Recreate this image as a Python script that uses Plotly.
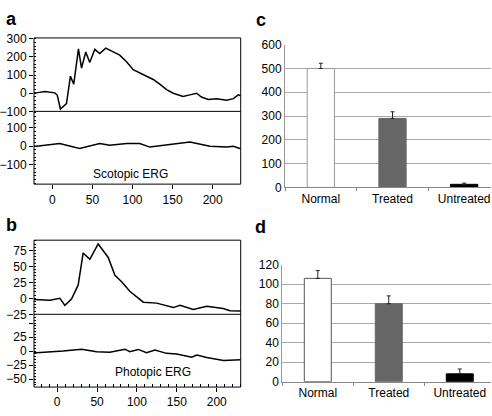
import plotly.graph_objects as go

# ---- Data ----
# Panel a: Scotopic ERG (time ms, amplitude)
a_top_t = [-23, -20, -9.6, 2.9, 6, 10, 17.5, 20, 22.5, 26.6, 32.5, 36.3, 41.6, 46.6, 52.9, 59, 66.6,
           84, 92.5, 100.8, 109, 117.5, 125.8, 134, 142.5, 150.8, 163, 171.6, 180, 186, 194.5, 205, 217.5, 225.8, 232, 235]
a_top_v = [2, 2, 9, 2, -10, -87, -57, 20, 94, 50, 245, 139, 227, 169, 242, 219, 249,
           210, 174, 130, 112, 94, 76, 50, 20, 0, -18, -9, 0, -21, -34, -30, -39, -30, -9, -14]
a_bot_t = [-23, -20, 9, 34, 59, 71.6, 92.5, 109, 121.6, 146.6, 171.6, 196.6, 217.5, 225.8, 233, 235]
a_bot_v = [0, 0, 14, -12, 14, 5, 14, 14, -5, 9, 23, 0, -4, 0, -14, -14]

# Panel b: Photopic ERG
b_top_t = [-29, -25.8, -9, 3.4, 9.7, 18, 26.4, 32.6, 41, 51.4, 64, 72.4, 80.8, 91, 108, 124.7, 145.6, 154,
           170.6, 187.4, 208, 216.7, 229, 230]
b_top_v = [-2, -2, -3, 0, -11, -1, 21, 71, 61, 85, 64, 36, 26, 11, -6, -7.5, -14.5, -11,
           -17.5, -12.6, -16, -19.5, -20, -20]
b_bot_t = [-29, -25.8, 7.5, 30.6, 49.4, 66, 85, 91, 101.6, 112, 122.6, 137, 149.8, 168.6, 175, 187.5, 208.4, 229, 230]
b_bot_v = [-3, -3, 0, 3.4, -1, -2, 3.4, -1, 3, -3, 1.7, -4, -5, -11, -7, -11.5, -16.7, -15.5, -15.5]

# Panels c, d: bar charts
groups = ["Normal", "Treated", "Untreated"]
c_vals = [500, 290, 13]
c_err = [22, 28, 5]
d_vals = [106, 80, 8]
d_err = [8, 8, 5]
bar_colors = ["#ffffff", "#666666", "#000000"]

W, H = 492, 416
def xd(a, b):
    return [a / W, b / W]
def yd(top, bot):
    return [1 - bot / H, 1 - top / H]

FONT = "Liberation Sans, Arial, Helvetica, sans-serif"
fig = go.Figure()

line = dict(color="black", width=1.5)
fig.add_trace(go.Scatter(x=a_top_t, y=a_top_v, mode="lines", line=line, xaxis="x", yaxis="y", showlegend=False))
fig.add_trace(go.Scatter(x=a_bot_t, y=a_bot_v, mode="lines", line=line, xaxis="x2", yaxis="y2", showlegend=False))
fig.add_trace(go.Scatter(x=b_top_t, y=b_top_v, mode="lines", line=line, xaxis="x3", yaxis="y3", showlegend=False))
fig.add_trace(go.Scatter(x=b_bot_t, y=b_bot_v, mode="lines", line=line, xaxis="x4", yaxis="y4", showlegend=False))

fig.add_trace(go.Bar(x=groups, y=c_vals, width=0.38, xaxis="x5", yaxis="y5", showlegend=False,
                     marker=dict(color=bar_colors, line=dict(color=["#999999", "#666666", "#000000"], width=1)),
                     error_y=dict(type="data", symmetric=False, array=c_err, arrayminus=[0, 0, 0],
                                  color="#222222", thickness=1, width=2)))
fig.add_trace(go.Bar(x=groups, y=d_vals, width=0.38, xaxis="x6", yaxis="y6", showlegend=False,
                     marker=dict(color=bar_colors, line=dict(color=["#555555", "#666666", "#000000"], width=1)),
                     error_y=dict(type="data", symmetric=False, array=d_err, arrayminus=[0, 0, 0],
                                  color="#222222", thickness=1, width=2)))

tf = dict(family=FONT, size=12, color="black")
noframe = dict(showline=False, showgrid=False, zeroline=False, tickfont=tf, tickcolor="black")
mn = lambda d, l=2: dict(dtick=d, ticks="inside", ticklen=l, tickcolor="black")

# ERG axes
a_x = [-23, 235]
b_x = [-29, 230]
L, R = 34, 240.7
fig.update_layout(
    xaxis=dict(domain=xd(L, R), range=a_x, anchor="y", showticklabels=False, ticks="", **noframe),
    yaxis=dict(domain=yd(32, 108), range=[-100, 305], anchor="x", tickvals=[-100, 0, 100, 200, 300],
               ticks="outside", ticklen=4, minor=mn(20), **noframe),
    xaxis2=dict(domain=xd(L, R), range=a_x, anchor="y2", tickvals=[0, 50, 100, 150, 200],
                ticks="outside", ticklen=4, **noframe),
    yaxis2=dict(domain=yd(108, 183.3), range=[-205, 188], anchor="x2", tickvals=[-100, 0, 100],
                ticks="outside", ticklen=4, minor=mn(20), **noframe),
    xaxis3=dict(domain=xd(L, R), range=b_x, anchor="y3", showticklabels=False, ticks="", **noframe),
    yaxis3=dict(domain=yd(241.3, 318), range=[-25, 91], anchor="x3", tickvals=[-25, 0, 25, 50, 75],
                ticks="outside", ticklen=4, minor=mn(5), **noframe),
    xaxis4=dict(domain=xd(L, R), range=b_x, anchor="y4", tickvals=[0, 50, 100, 150, 200],
                ticks="outside", ticklen=4, minor=mn(10, 3), **noframe),
    yaxis4=dict(domain=yd(318, 393.3), range=[-64, 65.5], anchor="x4", tickvals=[-50, -25, 0, 25, 50],
                ticktext=["\u221250", "\u221225", "0", "25", ""],
                ticks="outside", ticklen=4, minor=mn(5), **noframe),
)

# Frames drawn once (single divider line)
shapes = []
for top, mid, bot in [(32, 108, 183.3), (241.3, 318, 393.3)]:
    shapes.append(dict(type="rect", xref="paper", yref="paper", x0=L / W, x1=R / W,
                       y0=1 - bot / H, y1=1 - top / H, line=dict(color="black", width=1), layer="above"))
    shapes.append(dict(type="line", xref="paper", yref="paper", x0=L / W, x1=R / W,
                       y0=1 - mid / H, y1=1 - mid / H, line=dict(color="black", width=1), layer="above"))

# Bar axes
barx = dict(showline=True, linecolor="#888888", linewidth=1, showgrid=False, zeroline=False,
            tickfont=tf, ticks="outside", tickson="boundaries", ticklen=3, tickcolor="#888888")
bary = dict(showline=True, linecolor="#999999", linewidth=1, showgrid=True, gridcolor="#a8a8a8", gridwidth=1,
            zeroline=False, tickfont=tf, ticks="")
fig.update_layout(
    xaxis5=dict(domain=xd(285, 490.7), range=[-0.5, 2.37], anchor="y5", **barx),
    yaxis5=dict(domain=yd(39, 186.7), range=[0, 600], anchor="x5", dtick=100, **bary),
    xaxis6=dict(domain=xd(282.3, 491), range=[-0.5, 2.44], anchor="y6", **barx),
    yaxis6=dict(domain=yd(266.7, 387.7), range=[0, 120], anchor="x6", dtick=20, **bary),
)

annots = []
for txt, x, y in [("a", 4, 12), ("b", 4, 226), ("c", 254, 13), ("d", 253, 228)]:
    annots.append(dict(text="<b>" + txt + "</b>", x=x / W, y=1 - y / H, xref="paper", yref="paper",
                       xanchor="left", yanchor="middle", showarrow=False,
                       font=dict(family=FONT, size=18, color="black")))
annots.append(dict(text="Scotopic ERG", x=97, y=-150, xref="x2", yref="y2", showarrow=False,
                   font=dict(family=FONT, size=12, color="black")))
annots.append(dict(text="Photopic ERG", x=120, y=-38, xref="x4", yref="y4", showarrow=False,
                   font=dict(family=FONT, size=12, color="black")))

fig.update_layout(
    width=W, height=H, margin=dict(l=0, r=0, t=0, b=0),
    paper_bgcolor="white", plot_bgcolor="white",
    font=dict(family=FONT, size=12, color="black"),
    annotations=annots, shapes=shapes, bargap=0.6,
)

fig.write_html("out.html", config={"displayModeBar": False},
               post_script="document.body.style.margin='0';document.body.style.padding='0';")
